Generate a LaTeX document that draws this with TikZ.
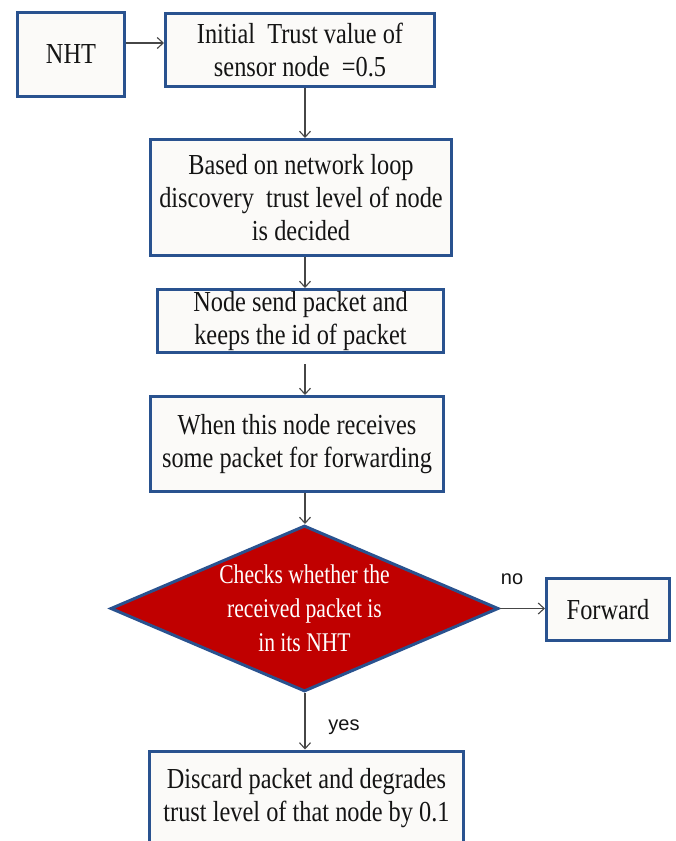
\documentclass[tikz,border=0pt]{standalone}
\usepackage{fontspec}
\setmainfont[FakeStretch=0.84]{Liberation Serif}
\newfontfamily\diafont[FakeStretch=0.8]{Liberation Serif}
\newfontfamily\lblfont{Liberation Sans}
\usetikzlibrary{arrows.meta,shapes.geometric}
\definecolor{bdr}{RGB}{41,82,143}
\definecolor{boxfill}{RGB}{251,250,248}
\definecolor{dred}{RGB}{192,0,0}
\definecolor{arrgray}{RGB}{70,70,70}
\definecolor{txt}{RGB}{20,20,20}
\begin{document}
\begin{tikzpicture}[x=1pt,y=-1pt,
  box/.style={draw=bdr, line width=3pt, fill=boxfill, inner sep=0pt, align=center, text=txt, font=\fontsize{29}{33}\selectfont},
  arr/.style={draw=arrgray, line width=1.1pt, -{Straight Barb[length=6pt,width=11pt]}},
  lbl/.style={font=\lblfont\fontsize{20}{24}\selectfont, text=txt}]
\clip (0,0) rectangle (675,841);
\fill[white] (0,0) rectangle (675,841);
% boxes
\node[box, minimum width=107pt, minimum height=84pt] (nht) at (71,54.5) {NHT};
\node[box, minimum width=269pt, minimum height=73pt] (b1) at (300,50) {Initial~ Trust value of\\sensor node ~=0.5};
\node[box, minimum width=301pt, minimum height=116pt] (b2) at (301,197.5) {Based on network loop\\discovery~ trust level of node\\is decided};
\node[box, minimum width=286pt, minimum height=63pt] (b3) at (300.5,321) {Node send packet and\\keeps the id of packet};
\node[box, minimum width=293pt, minimum height=95pt] (b4) at (297,444) {When this node receives\\some packet for forwarding};
\node[diamond, draw=bdr, line width=3pt, fill=dred, inner sep=0pt, minimum width=388pt, minimum height=166pt] (dia) at (304.5,608.5) {};
\node[text=white, align=center, font=\diafont\fontsize{27}{34}\selectfont] (dtxt) at (304.5,608) {Checks whether the\\received packet is\\in its NHT};
\node[box, minimum width=123pt, minimum height=62pt] (fwd) at (608,609.5) {Forward};
\node[box, anchor=north, minimum width=314pt, minimum height=94pt] (disc) at (306.5,749.5) {Discard packet and degrades\\trust level of that node by 0.1};
% labels
\node[lbl] (no) at (512,579) {no};
\node[lbl] (yes) at (344,727) {yes};
% connectors
\coordinate (ax) at (305,0);
\coordinate (a0) at ([yshift=11.5pt]nht.east);
\draw[arr] (a0) -- (a0 -| b1.west);
\draw[arr] (ax |- b1.south) -- (ax |- b2.north);
\draw[arr] (ax |- b2.south) -- (ax |- b3.north);
\coordinate (c3) at (ax |- b3.south);
\draw[arr] ([yshift=-10pt]c3) -- (ax |- b4.north);
\draw[arr] (ax |- b4.south) -- (ax |- dia.north);
\draw[arr] (dia.east) -- (dia.east -| fwd.west);
\draw[arr] (ax |- dia.south) -- (ax |- disc.north);
\end{tikzpicture}
\end{document}
